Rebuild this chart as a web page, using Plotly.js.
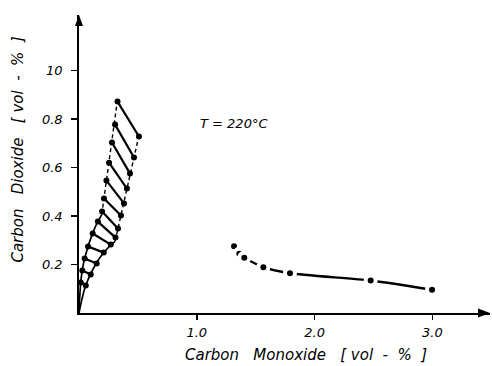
<!DOCTYPE html>
<html>
<head>
<meta charset="utf-8">
<script src="https://cdn.plot.ly/plotly-3.0.1.min.js"></script>
<style>
  html, body { margin: 0; padding: 0; background: #fff; }
  #chart { width: 492px; height: 366px; }
</style>
</head>
<body>
<div id="chart"></div>
<script>
// Measured CO / CO2 concentrations (vol-%) at T = 220 °C

// Scatter band at low CO: upper (left) and lower (right) edges
const bandUpperX = [0, 0.007, 0.017, 0.038, 0.068, 0.102, 0.144, 0.193, 0.325];
const bandUpperY = [0, 0.072, 0.138, 0.204, 0.260, 0.311, 0.361, 0.406, 0.873];
const bandLowerX = [0, 0.025, 0.051, 0.108, 0.178, 0.249, 0.306, 0.509];
const bandLowerY = [0, 0.056, 0.105, 0.171, 0.229, 0.270, 0.295, 0.732];

// Paired readings spanning the band (hatching)
const hatchStartX = [0.327, 0.306, 0.280, 0.255, 0.233, 0.212, 0.196, 0.160, 0.116, 0.077, 0.048, 0.028, 0.015];
const hatchStartY = [0.872, 0.777, 0.703, 0.620, 0.546, 0.472, 0.419, 0.377, 0.328, 0.274, 0.225, 0.175, 0.126];
const hatchEndX   = [0.509, 0.467, 0.433, 0.407, 0.382, 0.356, 0.331, 0.310, 0.270, 0.210, 0.150, 0.100, 0.058];
const hatchEndY   = [0.728, 0.641, 0.575, 0.513, 0.452, 0.402, 0.348, 0.311, 0.282, 0.249, 0.204, 0.159, 0.113];

// High-CO series
const carbonMonoxide = [1.316, 1.361, 1.403, 1.565, 1.791, 2.476, 2.997];
const carbonDioxide  = [0.275, 0.244, 0.228, 0.189, 0.164, 0.134, 0.096];

// Tick labels
const xTickVals = [1, 2, 3];
const xTickText = ['1.0', '2.0', '3.0'];
const yTickVals = [0.2, 0.4, 0.6, 0.8, 1.0];
const yTickText = ['0.2', '0.4', '0.6', '0.8', '10'];

const INK = '#000';
const FONT = 'DejaVu Sans, Liberation Sans, sans-serif';
const NB = '\u00a0';

// Hatch segments joined into one trace, separated by gaps
const hatchX = [], hatchY = [];
hatchStartX.forEach((x0, i) => {
  hatchX.push(x0, hatchEndX[i], null);
  hatchY.push(hatchStartY[i], hatchEndY[i], null);
});

const kUpper = bandUpperX.length - 2;   // last point of the curved part
const kLower = bandLowerX.length - 2;

const traces = [
  { // curved upper edge
    x: bandUpperX.slice(0, kUpper + 1), y: bandUpperY.slice(0, kUpper + 1),
    mode: 'lines', line: { color: INK, width: 1.7, shape: 'spline' },
    hoverinfo: 'skip', showlegend: false
  },
  { // steep upper edge
    x: bandUpperX.slice(kUpper), y: bandUpperY.slice(kUpper),
    mode: 'lines', line: { color: INK, width: 1.4, dash: '4px,3px' },
    hoverinfo: 'skip', showlegend: false
  },
  { // curved lower edge
    x: bandLowerX.slice(0, kLower + 1), y: bandLowerY.slice(0, kLower + 1),
    mode: 'lines', line: { color: INK, width: 1.7, shape: 'spline' },
    hoverinfo: 'skip', showlegend: false
  },
  { // steep lower edge
    x: bandLowerX.slice(kLower), y: bandLowerY.slice(kLower),
    mode: 'lines', line: { color: INK, width: 1.4, dash: '4px,3px' },
    hoverinfo: 'skip', showlegend: false
  },
  { // hatching
    x: hatchX, y: hatchY,
    mode: 'lines+markers',
    line: { color: INK, width: 2.2 },
    marker: { color: INK, size: 6 },
    connectgaps: false, hoverinfo: 'skip', showlegend: false
  },
  { // high-CO readings
    x: carbonMonoxide, y: carbonDioxide,
    mode: 'lines+markers',
    line: { color: INK, width: 2.4, shape: 'spline', smoothing: 0.6 },
    marker: { color: INK, size: 10, line: { color: '#fff', width: 4 } },
    showlegend: false
  }
];

const tickFont = { family: FONT, size: 13, color: INK, style: 'italic' };
const titleFont = { family: FONT, size: 15, color: INK, style: 'italic' };

const layout = {
  width: 492, height: 366,
  margin: { l: 79, r: 2, t: 15, b: 53 },
  paper_bgcolor: '#fff', plot_bgcolor: '#fff',
  showlegend: false,
  xaxis: {
    range: [0, 3.489], showgrid: false, zeroline: false,
    showline: true, linecolor: INK, linewidth: 1.8,
    ticks: 'outside', ticklen: 5, tickwidth: 1.4, tickcolor: INK,
    tickvals: xTickVals, ticktext: xTickText, tickfont: tickFont,
    ticklabelstandoff: 2
  },
  yaxis: {
    range: [0, 1.229], showgrid: false, zeroline: false,
    showline: true, linecolor: INK, linewidth: 1.8,
    ticks: 'outside', ticklen: 6, tickwidth: 1.4, tickcolor: INK,
    tickvals: yTickVals, ticktext: yTickText, tickfont: tickFont,
    ticklabelstandoff: 6
  },
  shapes: [
    { // x-axis arrowhead
      type: 'path', xref: 'paper', yref: 'paper',
      xsizemode: 'pixel', ysizemode: 'pixel', xanchor: 1, yanchor: 0,
      path: 'M 0 0 L -12 4.5 L -12 -4.5 Z',
      fillcolor: INK, line: { width: 0 }
    },
    { // y-axis arrowhead
      type: 'path', xref: 'paper', yref: 'paper',
      xsizemode: 'pixel', ysizemode: 'pixel', xanchor: 0, yanchor: 1,
      path: 'M 0 0 L -4 -11 L 4 -11 Z',
      fillcolor: INK, line: { width: 0 }
    }
  ],
  annotations: [
    {
      text: 'T = 220°C', x: 1.32, y: 0.781, xref: 'x', yref: 'y',
      showarrow: false, font: { family: FONT, size: 13, color: INK, style: 'italic' }
    },
    {
      text: ['Carbon', 'Monoxide', '[' + NB + 'vol' + NB + NB + '-' + NB + NB + '%' + NB + NB + ']'].join(NB + NB + NB),
      x: 1.927, y: 0, xref: 'x', yref: 'y', yshift: -42,
      showarrow: false, font: titleFont
    },
    {
      text: ['Carbon', 'Dioxide', '[' + NB + 'vol' + NB + NB + '-' + NB + NB + '%' + NB + NB + ']'].join(NB + NB + NB),
      x: 0, y: 0.674, xref: 'x', yref: 'y', xshift: -61, textangle: -90,
      showarrow: false, font: titleFont
    }
  ]
};

Plotly.newPlot('chart', traces, layout, { staticPlot: true, displayModeBar: false });
</script>
</body>
</html>
